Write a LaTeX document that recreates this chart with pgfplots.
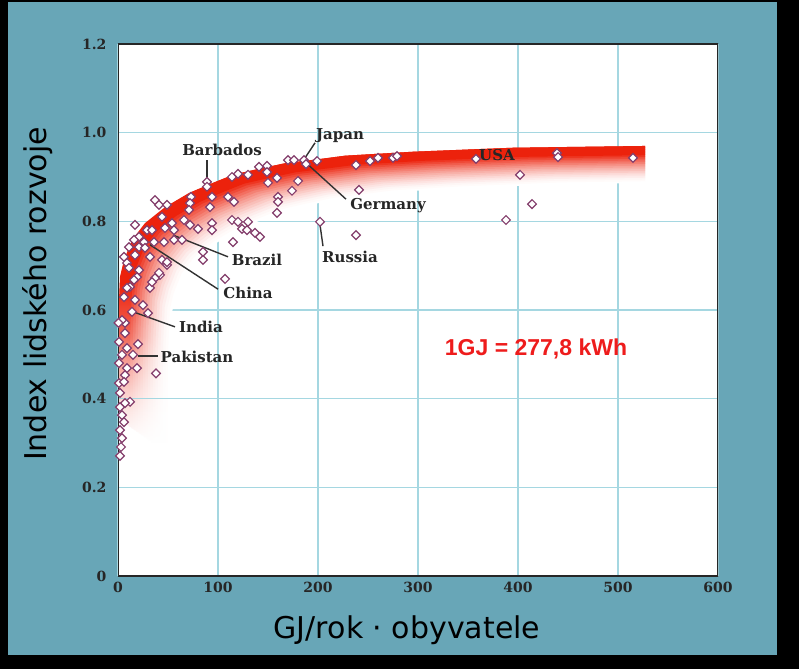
\documentclass[border=0pt]{standalone}
\usepackage{pgfplots}
\usepackage{pgfplotstable}
\pgfplotsset{compat=1.18}
\usetikzlibrary{fadings}
\usepackage{fontspec}
\setmainfont{DejaVu Serif}
\newfontfamily\sansf{DejaVu Sans}
\newfontfamily\arialf{Liberation Sans}
\definecolor{frameteal}{RGB}{104,166,183}
\definecolor{gridc}{RGB}{165,215,225}
\definecolor{bandred}{RGB}{236,34,12}
\definecolor{dotc}{RGB}{132,62,108}
\definecolor{leadc}{RGB}{50,50,50}
\definecolor{notered}{RGB}{238,28,28}

\pgfplotstableread{
x y
0 0.36
0 0.45
0 0.55
0.5 0.60
1 0.623
2 0.675
6 0.713
14 0.758
27 0.796
47 0.832
71 0.864
94 0.886
115 0.905
140 0.918
167 0.931
200 0.940
227 0.948
295 0.957
350 0.962
395 0.966
460 0.968
527 0.970
}\bandtable

\pgfplotstableread{
x y
89 0.889
89 0.878
73 0.855
94 0.855
72 0.841
71 0.826
92 0.832
110 0.855
116 0.844
114 0.900
120 0.907
130 0.905
141 0.923
149 0.925
149 0.911
150 0.887
159 0.898
170 0.938
176 0.938
186 0.938
188 0.929
199 0.936
180 0.891
174 0.869
160 0.855
160 0.844
159 0.819
238 0.927
252 0.936
260 0.943
275 0.943
279 0.947
358 0.941
439 0.954
440 0.945
515 0.943
402 0.905
414 0.839
388 0.803
241 0.871
238 0.769
202 0.799
37 0.848
41 0.837
49 0.837
44 0.810
54 0.796
66 0.803
72 0.792
80 0.783
94 0.796
94 0.780
17 0.792
29 0.780
34 0.780
47 0.785
56 0.780
21 0.765
16 0.758
26 0.753
36 0.753
46 0.753
56 0.758
64 0.758
11 0.742
21 0.742
114 0.803
120 0.799
130 0.799
124 0.783
129 0.780
137 0.774
142 0.765
115 0.753
107 0.670
85 0.713
85 0.731
49 0.702
42 0.679
32 0.650
25 0.611
30 0.593
17 0.623
14 0.596
7 0.571
7 0.548
20 0.523
15 0.499
19 0.469
38 0.457
17 0.724
27 0.740
32 0.720
6 0.720
9 0.706
11 0.695
21 0.690
19 0.674
16 0.668
12 0.652
9 0.650
44 0.713
49 0.708
41 0.684
37 0.672
34 0.663
6 0.629
4 0.577
0.5 0.571
1 0.528
9 0.514
4 0.499
1 0.480
9 0.469
7 0.453
1 0.435
6 0.438
2 0.413
12 0.393
7 0.390
2 0.381
4 0.363
6 0.347
2 0.329
4 0.311
3 0.291
2 0.271
}\dotstable

\pgfplotsset{
  bandlayer/.style n args={2}{forget plot, no markers, line join=round, line cap=round,
    line width=4.6pt, xshift=#1*2.5pt, yshift=-#1*1.7pt, color=bandred!#2!white},
}

\begin{document}
\begin{tikzpicture}
\fill[black] (0pt,0pt) rectangle (799pt,669pt);
\fill[frameteal] (8pt,14pt) rectangle (777pt,667pt);
\begin{axis}[
  at={(118pt,93pt)}, anchor=south west,
  width=600pt, height=532pt, scale only axis,
  xmin=0, xmax=600, ymin=0, ymax=1.2,
  axis background/.style={fill=white},
  xtick={0,100,200,300,400,500,600},
  ytick={0,0.2,0.4,0.6,0.8,1.0,1.2},
  xticklabels={0,100,200,300,400,500,600},
  yticklabels={0,0.2,0.4,0.6,0.8,1.0,1.2},
  grid=major,
  major grid style={draw=gridc, line width=1.2pt},
  major tick length=0pt,
  axis line style={draw=none},
  tick label style={font=\fontsize{14}{16}\selectfont\bfseries, text=black!85},
  xticklabel style={yshift=-3pt},
  yticklabel style={xshift=-8pt},
  /pgf/number format/assume math mode=true,
]
\begin{scope}
\clip (axis cs:0,0.30) -- (axis cs:0,0.55) -- (axis cs:0.5,0.60) -- (axis cs:1,0.623)
  -- (axis cs:2,0.675) -- (axis cs:6,0.713) -- (axis cs:14,0.758) -- (axis cs:27,0.796)
  -- (axis cs:47,0.832) -- (axis cs:71,0.864) -- (axis cs:94,0.886) -- (axis cs:115,0.905)
  -- (axis cs:140,0.918) -- (axis cs:167,0.931) -- (axis cs:200,0.940) -- (axis cs:227,0.948)
  -- (axis cs:295,0.957) -- (axis cs:350,0.962) -- (axis cs:395,0.966) -- (axis cs:460,0.968)
  -- (axis cs:527,0.970) -- (axis cs:527,0) -- (axis cs:0,0) -- cycle;
\addplot[bandlayer={20}{0}] table {\bandtable};
\addplot[bandlayer={19}{2}] table {\bandtable};
\addplot[bandlayer={18}{4}] table {\bandtable};
\addplot[bandlayer={17}{8}] table {\bandtable};
\addplot[bandlayer={16}{12}] table {\bandtable};
\addplot[bandlayer={15}{17}] table {\bandtable};
\addplot[bandlayer={14}{23}] table {\bandtable};
\addplot[bandlayer={13}{29}] table {\bandtable};
\addplot[bandlayer={12}{35}] table {\bandtable};
\addplot[bandlayer={11}{42}] table {\bandtable};
\addplot[bandlayer={10}{49}] table {\bandtable};
\addplot[bandlayer={9}{57}] table {\bandtable};
\addplot[bandlayer={8}{65}] table {\bandtable};
\addplot[bandlayer={7}{73}] table {\bandtable};
\addplot[bandlayer={6}{82}] table {\bandtable};
\addplot[bandlayer={5}{91}] table {\bandtable};
\addplot[bandlayer={4}{100}] table {\bandtable};
\addplot[bandlayer={3}{100}] table {\bandtable};
\addplot[bandlayer={2}{100}] table {\bandtable};
\addplot[bandlayer={1}{100}] table {\bandtable};
\addplot[bandlayer={0}{100}] table {\bandtable};
\fill[white, path fading=north] (axis cs:0,0.29) rectangle (axis cs:62,0.66);
\fill[white, path fading=north] (axis cs:0,0.20) rectangle (axis cs:70,0.54);
\fill[white] (axis cs:0,0.20) rectangle (axis cs:70,0.30);
\end{scope}
\addplot[forget plot, no markers, gridc, line width=1.2pt] coordinates {(0,0.4) (70,0.4)};

% leader lines
\addplot[forget plot, no markers, leadc, line width=1.4pt] coordinates {(89,0.938) (89,0.898)};
\addplot[forget plot, no markers, leadc, line width=1.4pt] coordinates {(197,0.977) (187,0.943)};
\addplot[forget plot, no markers, leadc, line width=1.4pt] coordinates {(188,0.932) (228,0.850)};
\addplot[forget plot, no markers, leadc, line width=1.4pt] coordinates {(202,0.792) (205,0.744)};
\addplot[forget plot, no markers, leadc, line width=1.4pt] coordinates {(55,0.769) (110,0.720)};
\addplot[forget plot, no markers, leadc, line width=1.4pt] coordinates {(32,0.747) (100,0.647)};
\addplot[forget plot, no markers, leadc, line width=1.4pt] coordinates {(15,0.596) (57,0.562)};
\addplot[forget plot, no markers, leadc, line width=1.4pt] coordinates {(20,0.496) (40,0.496)};

\addplot[only marks, mark=square*, mark size=3.1pt,
  mark options={rotate=45, fill=white, draw=dotc, line width=1.2pt}] table {\dotstable};

\begin{scope}[every node/.style={font=\fontsize{15}{17}\selectfont\bfseries, text=black!85}]
\node at (axis cs:104,0.961) {Barbados};
\node at (axis cs:222,0.993) {Japan};
\node at (axis cs:270,0.835) {Germany};
\node at (axis cs:232,0.720) {Russia};
\node at (axis cs:379,0.950) {USA};
\node at (axis cs:139,0.713) {Brazil};
\node at (axis cs:130,0.638) {China};
\node at (axis cs:83,0.562) {India};
\node at (axis cs:79,0.494) {Pakistan};
\end{scope}
\node[font=\arialf\bfseries\fontsize{23}{26}\selectfont, text=notered] at (axis cs:418,0.512) {1GJ = 277,8 kWh};

\draw[line width=2.5pt, color=black!85] (rel axis cs:0,0) rectangle (rel axis cs:1,1);
\end{axis}
\node[rotate=90, font=\sansf\fontsize{30}{34}\selectfont] at (38pt,375pt) {Index lidského rozvoje};
\node[font=\sansf\fontsize{30}{34}\selectfont] at (407pt,39pt) {GJ/rok · obyvatele};
\end{tikzpicture}
\end{document}
